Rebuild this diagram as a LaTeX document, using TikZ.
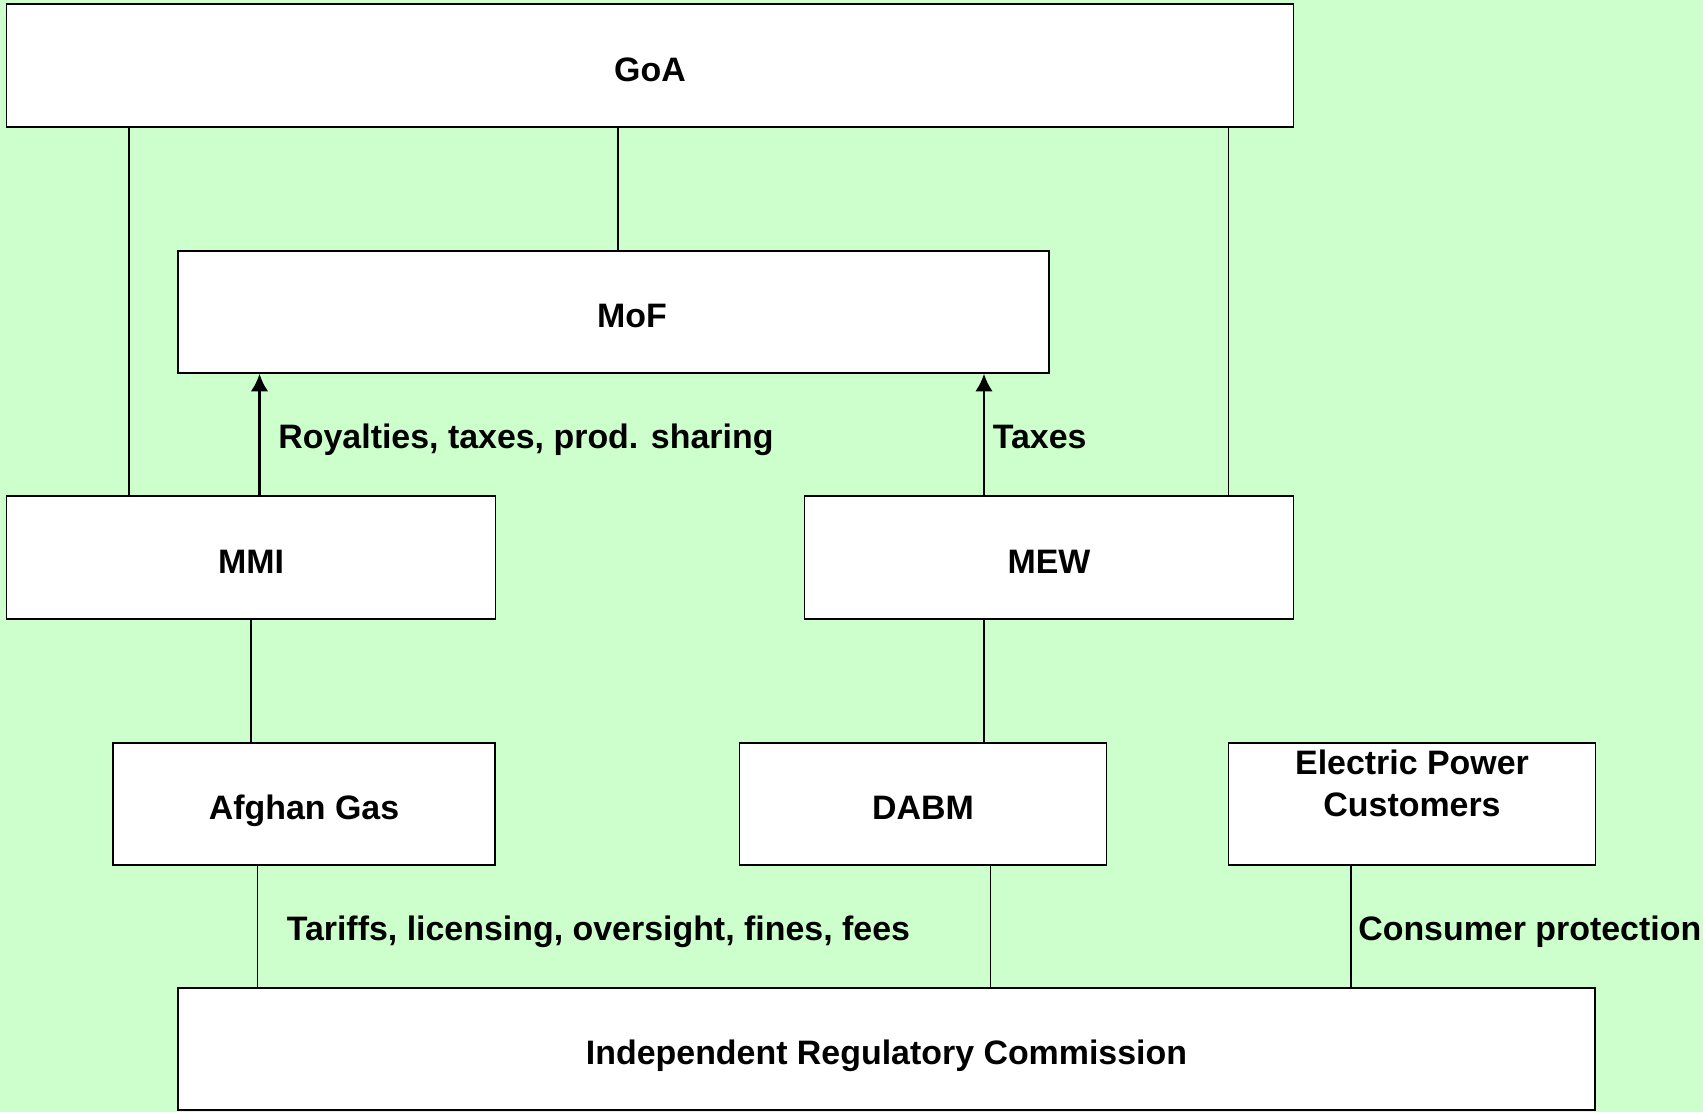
\documentclass[tikz,border=0pt]{standalone}
\usepackage{fontspec}
\setmainfont{Liberation Sans}
\usetikzlibrary{arrows.meta}
\definecolor{bggreen}{RGB}{204,255,204}
\tikzset{
  >={Latex[length=10pt,width=10pt]},
}
\tikzstyle{every node}=[font=\fontsize{19.3}{24}\selectfont\bfseries]
\tikzstyle{frame}=[draw,fill=white,line width=1.1pt,inner sep=0pt,align=center]
\tikzstyle{box}=[frame,text height=18pt,text depth=0pt]
\tikzstyle{link}=[line width=0.9pt]
\tikzstyle{flow}=[line width=1.6pt,->]
\tikzstyle{tag}=[inner sep=0pt,right,text height=16.3pt,text depth=0pt]

\begin{document}
\begin{tikzpicture}
    \fill[bggreen] (0,0) rectangle (34.06,-22.24);
    \useasboundingbox (0,0) rectangle (34.06,-22.24);
    % boxes
    \node[box,minimum width=25.74cm,minimum height=2.45cm] (GoA) at (13.00,-1.31) {GoA};
    \node[box,minimum width=17.42cm,minimum height=2.43cm] (MoF) at (12.27,-6.24) {\hspace*{0.74cm}MoF};
    \node[box,minimum width=9.78cm,minimum height=2.45cm] (MMI) at (5.02,-11.15) {MMI};
    \node[box,minimum width=9.78cm,minimum height=2.45cm] (MEW) at (20.98,-11.15) {MEW};
    \node[box,minimum width=7.64cm,minimum height=2.43cm] (gas) at (6.08,-16.08) {Afghan Gas};
    \node[box,minimum width=7.34cm,minimum height=2.43cm] (DABM) at (18.46,-16.08) {DABM};
    \node[frame,minimum width=7.34cm,minimum height=2.43cm] (EPC) at (28.24,-16.08) {Electric Power\\Customers\\~};
    \node[box,minimum width=28.34cm,minimum height=2.44cm] (IRC) at (17.73,-20.98) {Independent Regulatory Commission};
    % where the lines run
    \coordinate (xa) at (2.58,0);
    \coordinate (xb) at (12.36,0);
    \coordinate (xc) at (24.57,0);
    \coordinate (xd) at (5.19,0);
    \coordinate (xe) at (19.68,0);
    \coordinate (xf) at (5.15,0);
    \coordinate (xg) at (19.81,0);
    \coordinate (xh) at (27.02,0);
    % lines down from GoA
    \draw[link] (GoA.south -| xa) -- (MMI.north -| xa);
    \draw[link] (GoA.south -| xb) -- (MoF.north -| xb);
    \draw[link] (GoA.south -| xc) -- (MEW.north -| xc);
    % payments to MoF
    \draw[flow] (MMI.north -| xd) -- (MoF.south -| xd)
      node[tag,midway,xshift=0.35cm]{Royalties, taxes, prod. sharing};
    \draw[flow] (MEW.north -| xe) -- (MoF.south -| xe)
      node[tag,midway,xshift=0.15cm]{Taxes};
    % ministries to companies
    \draw[link] (MMI.south) -- (gas.north -| MMI.south);
    \draw[link] (MEW.south -| xe) -- (DABM.north -| xe);
    % regulator
    \draw[link] (gas.south -| xf) -- (IRC.north -| xf)
      node[tag,midway,xshift=0.57cm]{Tariffs, licensing, oversight, fines, fees};
    \draw[link] (DABM.south -| xg) -- (IRC.north -| xg);
    \draw[link] (EPC.south -| xh) -- (IRC.north -| xh)
      node[tag,midway,xshift=0.13cm]{Consumer protection};
\end{tikzpicture}
\end{document}
